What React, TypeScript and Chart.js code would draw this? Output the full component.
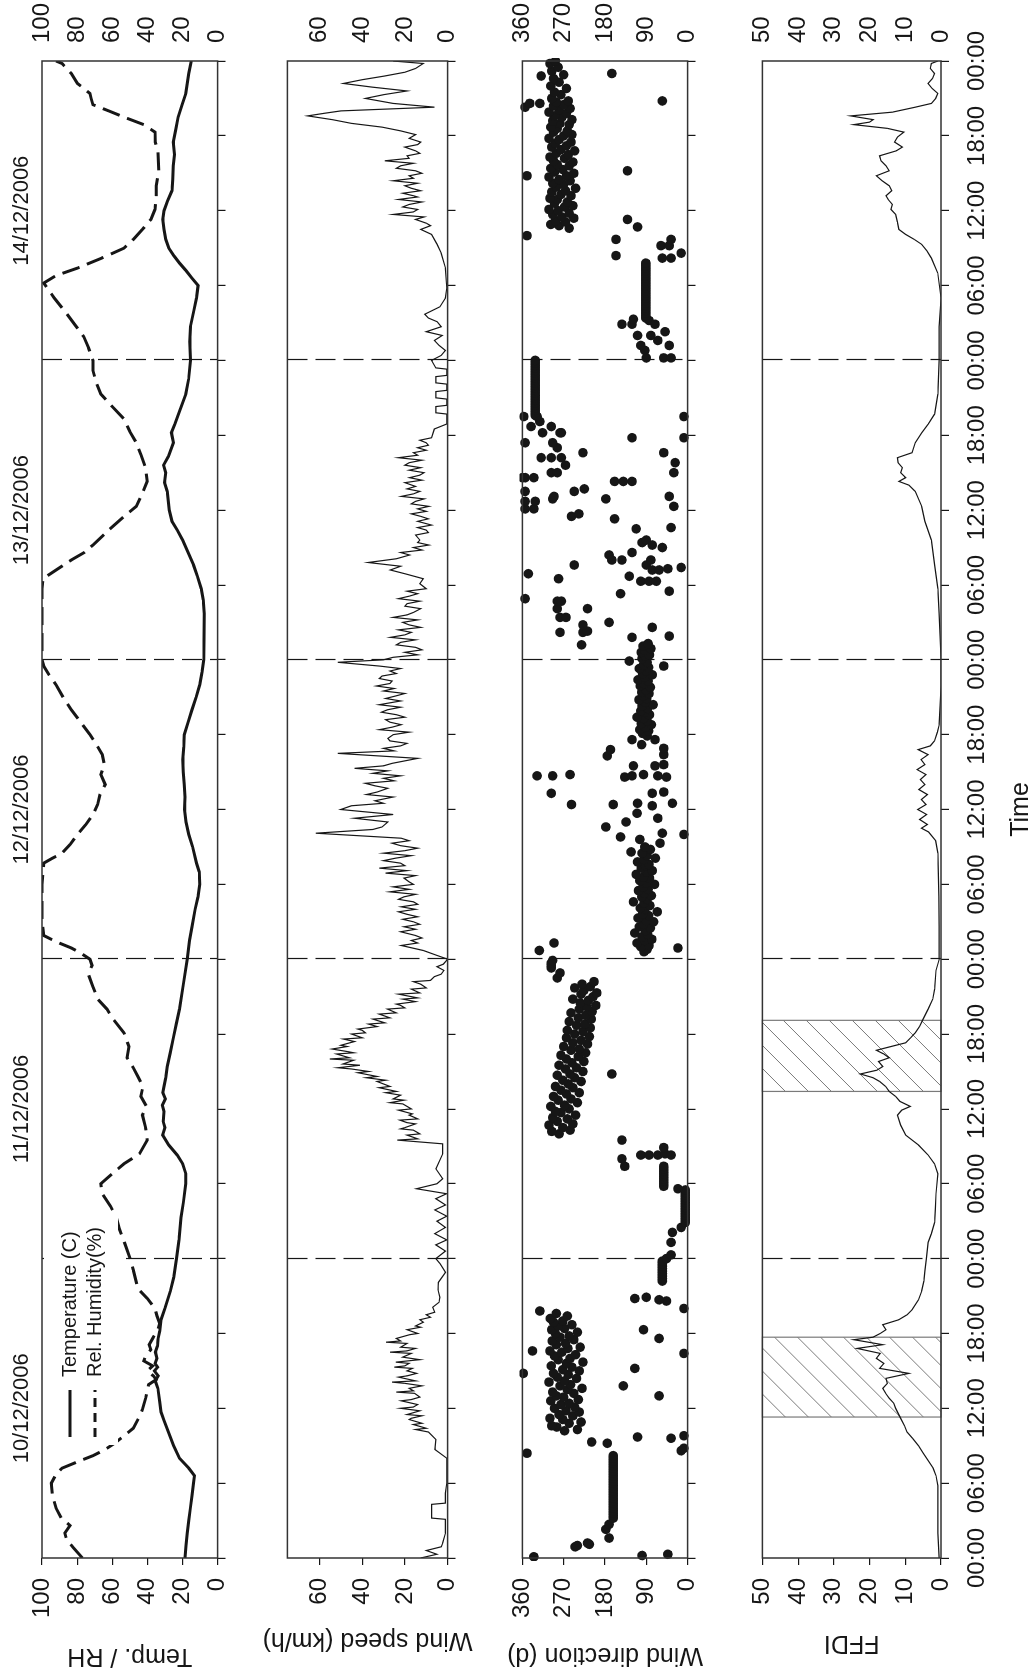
import React, { useEffect, useRef } from 'react';
import { Chart, registerables } from 'chart.js';

Chart.register(...registerables);

const FONT = '"Liberation Sans", Arial, Helvetica, sans-serif';
const INK = '#161616';

// ---------- axes / labels ----------
const dayLabels = ['10/12/2006', '11/12/2006', '12/12/2006', '13/12/2006', '14/12/2006'];
const dateTickHours = [12, 36, 60, 84, 108];
const dayBoundaries = [24, 48, 72, 96];
const timeTicks = [0, 6, 12, 18, 24, 30, 36, 42, 48, 54, 60, 66, 72, 78, 84, 90, 96, 102, 108, 114, 120];
const tempRhTicks = [0, 20, 40, 60, 80, 100];
const windSpeedTicks = [0, 20, 40, 60];
const windDirTicks = [0, 90, 180, 270, 360];
const ffdiTicks = [0, 10, 20, 30, 40, 50];
const hatchRanges: [number, number][] = [[11.3, 17.7], [37.4, 43.1]];

type Pt = [number, number];

// hours since 10/12/2006 00:00, value
const temperature: Pt[] = [
  [0, 18.5], [1, 18], [2, 17.3], [3, 16.4], [4, 15.5], [5, 14.6], [6, 13.7], [6.6, 13.2], [7.2, 16.4], [8, 21.7],
  [9, 25], [10, 27.8], [11, 30.5], [11.7, 32.2], [12.5, 33], [13.6, 34], [14.2, 35.5], [14.6, 33.8], [15, 36],
  [15.3, 34.2], [15.6, 35.6], [16, 34.5], [16.5, 35.4], [17, 34.2], [17.5, 34], [18.2, 33], [19.1, 32.2], [20, 30],
  [21.4, 26.9], [22.5, 25], [24, 23.4], [25.5, 22], [27.3, 20.8], [28.5, 19.5], [30, 18.1], [30.8, 18.1], [31.6, 19.9],
  [32.3, 23], [33.1, 27.8], [33.9, 31.3], [34.5, 30], [35, 31], [35.8, 30.5], [36.3, 31.5], [36.8, 29.8], [37.3, 31.2],
  [37.8, 30.5], [38.5, 29.5], [39.4, 28.7], [40.5, 27], [41.7, 25.2], [42.8, 23.5], [44, 21.7], [46, 19.5], [48, 17.3],
  [49.5, 16], [50.6, 14.6], [52, 12.8], [53, 11.2], [54, 10.2], [55, 10.5], [55.7, 12], [57, 14.2], [58, 16.4], [59, 18],
  [60, 18.8], [61, 18.5], [62, 19], [63, 19.6], [64, 19.9], [65, 19.3], [66, 19], [67, 16.8], [68, 14.6], [69, 12.2],
  [70, 10.2], [71, 8.9], [72, 7.9], [73.5, 7.7], [75.7, 7.6], [76.8, 8.2], [77.7, 9.3], [78.7, 11.5], [79.6, 13.7],
  [80.6, 16.8], [81.6, 19.9], [82.4, 23], [83.1, 26], [84, 27.5], [85.5, 28.7], [86.2, 30.2], [87, 29.6], [87.6, 30.8],
  [88.3, 28], [89.4, 25.2], [90.2, 26.3], [90.9, 24.3], [92, 21.5], [93.3, 18.1], [94.5, 16.5], [96, 15.5], [97.5, 15.8],
  [98.7, 15.5], [100, 13.5], [101, 12], [102, 11.1], [102.6, 14.6], [103.2, 18], [103.8, 21.7], [104.4, 25], [105, 27.8],
  [105.7, 29.5], [106.5, 30.5], [107.3, 31.2], [108, 30.5], [108.8, 28.5], [109.6, 26], [110.5, 25.6], [111.6, 25.2],
  [112.5, 24.5], [113.5, 25.2], [114.5, 23.8], [115.5, 22.5], [116.5, 20.2], [117.4, 18.1], [118.2, 17.3], [119, 16.4],
  [120, 15],
];

const relHumidity: Pt[] = [
  [0, 77], [0.8, 82], [1.5, 86], [2, 87], [2.6, 84], [3.2, 89], [4, 92], [5, 94], [6, 94.7], [6.7, 92], [7.2, 88.6],
  [7.7, 80], [8.2, 71], [8.7, 64], [9.2, 58.6], [10.4, 48], [11.2, 45], [11.9, 42.8], [12.8, 41], [13.9, 39.3],
  [14.3, 35], [14.6, 36.6], [15, 40], [15.4, 37], [15.8, 42], [16.2, 41], [16.7, 38], [17.1, 39], [17.7, 36.6],
  [18.3, 34], [18.8, 33], [19.4, 34.5], [20, 35.7], [20.8, 40], [21.6, 45.4], [23.1, 48], [24, 49.8], [25.4, 53.3],
  [26.4, 56], [27.3, 57.7], [28.2, 61], [29.2, 65.7], [30, 66.5], [30.8, 60], [31.6, 53.3], [32.4, 44.5], [33.5, 40.1],
  [34.5, 41], [35.5, 42.8], [36.2, 40.5], [37, 43.7], [37.8, 42.5], [38.6, 45.4], [39.3, 48], [40.1, 51.6], [41, 50.5],
  [42.1, 53.3], [43.2, 59.5], [44, 63], [44.8, 68.3], [45.8, 71], [46.8, 73.6], [47.5, 71.5], [48, 72.7], [48.5, 78],
  [48.9, 83.3], [49.4, 92], [49.9, 99], [51, 100], [52.6, 100], [54, 100], [55.7, 99], [56.1, 94], [56.5, 88.6],
  [57.2, 84], [58, 79.8], [58.8, 75], [59.6, 71], [60.4, 68.3], [61.2, 67], [62, 64], [62.8, 66.5], [63.6, 64.5],
  [64.4, 65.7], [65.2, 69], [66, 72.7], [67, 78], [68, 83.3], [69, 88], [70, 92], [70.8, 96], [71.5, 99], [72, 100],
  [75, 100], [77.7, 100], [78.5, 99.5], [79.2, 92], [80, 83.3], [80.6, 76], [81.2, 71], [82.4, 62], [83.4, 54],
  [84.3, 46.3], [85.3, 43], [86.3, 40.1], [87.4, 41], [88.4, 43.5], [89.4, 46.3], [90.3, 50], [91.3, 53.3], [92.3, 60],
  [93.3, 66.5], [94.2, 69], [95.2, 71], [96, 71], [97, 73.5], [97.9, 76.2], [98.9, 81.5], [99.9, 86.8], [101, 93],
  [102.2, 99], [102.8, 92], [103.4, 79.8], [104.2, 66], [105, 53.3], [105.7, 48], [106.5, 42.8], [107.3, 38],
  [108.1, 35.7], [109, 35], [110, 34.9], [111.2, 33.5], [112.8, 34], [113.5, 35.5], [114.3, 35.7], [114.9, 42],
  [115.5, 53.3], [116, 62], [116.5, 71], [117, 72], [117.4, 72.7], [118.2, 79.8], [119, 83.3], [119.8, 88.6], [120, 92],
];

const windSpeed: Pt[] = [
  [0, 12.6], [0.3, 5], [0.6, 10], [0.9, 3], [1.2, 2.3], [2, 1], [3.1, 1], [3.2, 7.5], [4.3, 7.5], [4.4, 1], [5.2, 1],
  [6, 0.4], [8, 0.4], [8.7, 6], [9.5, 5.5], [10.1, 9], [10.3, 15], [10.4, 10], [10.7, 16], [10.8, 12], [11.1, 18],
  [11.2, 17], [11.4, 12], [11.5, 19], [11.8, 13], [12.0, 22], [12.1, 16], [12.3, 14], [12.6, 21.7], [12.7, 17],
  [12.9, 13], [13.2, 15.5], [13.3, 24], [13.4, 16], [13.6, 18], [13.8, 12], [14.0, 20], [14.1, 26], [14.2, 15],
  [14.5, 23], [14.6, 19], [14.8, 14.5], [15.0, 19], [15.2, 16.5], [15.3, 25], [15.4, 20], [15.6, 18], [15.7, 24.3],
  [15.9, 13], [16.0, 17], [16.1, 21], [16.4, 17], [16.5, 27], [16.6, 19], [16.8, 15], [16.9, 22], [17.2, 19],
  [17.3, 28.8], [17.4, 22], [17.6, 24], [17.9, 17.8], [18.0, 14], [18.3, 19], [18.5, 12.6], [18.6, 15], [18.9, 11.4],
  [19.1, 13], [19.3, 8], [19.5, 10], [19.7, 6], [20.1, 7], [20.5, 4],
  [20.9, 3.6], [21.5, 4.5], [22.1, 4.3], [22.9, 1], [23.6, 3.6], [24, 5.5], [24.6, 1], [25.1, 5.5], [25.5, 0.4], [26, 6],
  [26.5, 1], [27, 5], [27.4, 0.4], [27.9, 6], [28.3, 1], [28.8, 5.5], [29.2, 0.5], [29.6, 14.6], [30, 5], [30.4, 2.3],
  [31.2, 5.5], [32.4, 2.3], [33.2, 2.3], [33.5, 23.6], [33.6, 14], [33.9, 19], [34.0, 13], [34.3, 16], [34.4, 22],
  [34.5, 20], [34.8, 15], [34.9, 19], [35.1, 22.3], [35.2, 14], [35.5, 18], [35.6, 16.5], [35.9, 23], [36.0, 17],
  [36.4, 21], [36.5, 27], [36.7, 20.4], [36.8, 25.5], [37.1, 22], [37.3, 29], [37.4, 24], [37.7, 32], [37.8, 27],
  [38.0, 30], [38.2, 33], [38.3, 29], [38.5, 38], [38.6, 33], [38.9, 42], [39.0, 37], [39.2, 45], [39.3, 51.4],
  [39.5, 41], [39.6, 49], [39.9, 44], [40.0, 55.2], [40.1, 46], [40.4, 52], [40.5, 44], [40.6, 47], [40.8, 54],
  [41.0, 47], [41.1, 50], [41.4, 43.6], [41.6, 48.8], [41.7, 40], [42.0, 45], [42.1, 38.5], [42.3, 40], [42.4, 42],
  [42.6, 33], [42.8, 37], [42.9, 29.4], [43.2, 35], [43.3, 27], [43.6, 32], [43.7, 24], [44.0, 28.1], [44.1, 20],
  [44.3, 22], [44.4, 24], [44.6, 15], [44.8, 21], [44.9, 14], [45.2, 23], [45.3, 13], [45.6, 17], [45.7, 10],
  [46.0, 12.6], [46.2, 16], [46.3, 8], [46.6, 6.2], [46.8, 3], [47.1, 1.7], [47.4, 5], [47.6, 2], [48, 0],
  [48.3, 4.9], [48.7, 11.4], [49.1, 21.7], [49.3, 14], [49.5, 17], [49.7, 12],
  [49.9, 15], [50.2, 22], [50.4, 15], [50.6, 20.4], [50.8, 13], [51, 16], [51.2, 21], [51.4, 14], [51.6, 19],
  [51.8, 23], [52, 15], [52.2, 21.7], [52.4, 14], [52.6, 16], [52.8, 23], [53, 20.4], [53.2, 15], [53.4, 27],
  [53.6, 18], [53.8, 25.5], [54, 16], [54.2, 18], [54.5, 20.4], [54.7, 15], [54.9, 29], [55.1, 19], [55.3, 32],
  [55.5, 20], [55.7, 22], [55.9, 30], [56.1, 24.3], [56.3, 17], [56.5, 30], [56.7, 20], [56.9, 14], [57.1, 22],
  [57.3, 26], [57.5, 18], [57.7, 21.7], [58.1, 61.7], [58.4, 35], [58.6, 30.7], [59, 28], [59.3, 43.6], [59.6, 25.5],
  [60, 50], [60.3, 45], [60.5, 30], [60.7, 34], [61, 25.5], [61.2, 38], [61.4, 33], [61.7, 28], [61.9, 34],
  [62.1, 38.5], [62.3, 25], [62.5, 30], [62.7, 22], [62.9, 35], [63.1, 28], [63.3, 43.6], [63.5, 30], [63.7, 26],
  [64.1, 14], [64.5, 51.4], [64.7, 25], [64.9, 30], [65.1, 22], [65.3, 19], [65.5, 27], [65.7, 28], [66, 25.5],
  [66.2, 18], [66.4, 32], [66.6, 26], [66.8, 21.7], [67, 27], [67.2, 29], [67.4, 20], [67.6, 24], [67.8, 31], [68, 28],
  [68.2, 22], [68.4, 32], [68.7, 22], [68.9, 29], [69.1, 24.3], [69.3, 20], [69.5, 30], [69.7, 25], [69.9, 33.3],
  [70.1, 27], [70.3, 26], [70.5, 32], [70.7, 30.7], [70.9, 24], [71.1, 27], [71.3, 22], [71.5, 32], [71.8, 51.4],
  [72, 30], [72.2, 25.5], [72.4, 14], [72.6, 20], [72.8, 12], [73, 15], [73.2, 24], [73.4, 22], [73.6, 15], [73.8, 26.8],
  [74, 20], [74.2, 17], [74.4, 23], [74.6, 12.6], [74.8, 18], [75, 21], [75.2, 14], [75.4, 25.5], [75.6, 19], [75.8, 16],
  [76.1, 12.6], [76.3, 20], [76.5, 19], [76.7, 13], [76.9, 23], [77.1, 18], [77.3, 14], [77.5, 19], [77.7, 10],
  [78.1, 13], [78.5, 11.4], [78.9, 20], [79.2, 26.8], [79.5, 22], [79.8, 37.2], [80.1, 24], [80.4, 17.8], [80.6, 22],
  [80.8, 12], [81.0, 16], [81.2, 8.8], [81.4, 14], [81.6, 13], [82, 15], [82.2, 9], [82.4, 10], [82.6, 14], [82.8, 7.5],
  [83.1, 14], [83.3, 9], [83.5, 12.6], [83.7, 17], [83.9, 10], [84.1, 14], [84.3, 8.8], [84.5, 17], [84.7, 15],
  [84.9, 11], [85.1, 21.7], [85.3, 16], [85.5, 13], [85.7, 19], [85.9, 15], [86.2, 20], [86.4, 12], [86.6, 17.8],
  [86.8, 13], [87, 11], [87.2, 18], [87.4, 12.6], [87.6, 20], [87.8, 18], [88, 12], [88.2, 23], [88.4, 14], [88.6, 16],
  [88.8, 10], [89, 14], [89.2, 9], [89.4, 10], [89.6, 13], [89.8, 7.5], [90.5, 6.2], [90.9, 0.4], [91.7, 0.4],
  [91.8, 5.5], [92.3, 5.5], [92.4, 0.4], [92.9, 0.4], [93, 5.5], [93.5, 5.5], [93.6, 0.4], [94.1, 0.4], [94.2, 5.5],
  [94.7, 5.5], [94.8, 0.4], [95.3, 0.4], [95.4, 5.5], [96, 7.5], [96.4, 3], [96.8, 1], [97.2, 4], [97.6, 6.2], [98, 2.5],
  [98.3, 10], [98.7, 3], [99.1, 4.9], [99.4, 9], [99.7, 10.7], [100.3, 3.6], [101, 1], [101.8, 0.4], [103.4, 1],
  [104.6, 3], [105.3, 4.9], [106.1, 7.5], [106.5, 12.6], [106.8, 8], [107, 10], [107.3, 15], [107.5, 11], [107.7, 25.5],
  [107.9, 16], [108.1, 14], [108.3, 21], [108.5, 18], [108.7, 12], [108.9, 23], [109.1, 14], [109.2, 16], [109.4, 21],
  [109.6, 12.6], [109.8, 17], [110, 20], [110.2, 14], [110.4, 25.5], [110.6, 16], [110.8, 18], [111, 12], [111.2, 15],
  [111.4, 24], [111.6, 22], [111.8, 16], [112, 29.4], [112.2, 18], [112.4, 19], [112.6, 13], [112.8, 15], [113.1, 20],
  [113.3, 14], [113.5, 12.6], [113.8, 18], [114.1, 15], [114.4, 22], [114.7, 30.7], [115, 45], [115.3, 54],
  [115.6, 65.5], [115.8, 58], [116, 50], [116.3, 6.2], [116.6, 25.5], [117, 38.5], [117.3, 30], [117.6, 19],
  [117.9, 35], [118.2, 48.8], [118.5, 40], [118.8, 29.4], [119.1, 20], [119.4, 15], [119.8, 11.4], [120, 25.5],
];

const windDirection: Pt[] = [
  // 10/12
  [0.1, 335], [0.2, 99], [0.3, 43], [0.9, 245], [1.0, 240], [1.1, 214], [1.2, 218], [1.6, 171], [2.3, 178], [2.7, 171],
  [3.2, 162], [3.4, 162], [3.6, 162], [3.8, 162], [4.0, 162], [4.2, 162], [4.4, 162], [4.6, 162], [4.8, 162], [5.0, 162],
  [5.2, 162], [5.4, 162], [5.6, 162], [5.8, 162], [6.0, 162], [6.2, 162], [6.4, 162], [6.6, 162], [6.8, 162], [7.0, 162],
  [7.2, 162], [7.4, 162], [7.6, 162], [7.8, 162], [8.0, 162], [8.2, 162],
  [8.4, 350], [8.6, 14], [8.8, 8], [9.2, 175], [9.3, 209], [9.6, 36], [9.7, 109], [9.8, 8],
  [10.2, 268], [10.3, 240], [10.5, 285], [10.6, 296], [10.8, 258], [10.9, 232], [11.1, 272], [11.2, 300], [11.4, 250],
  [11.5, 280], [11.7, 236], [11.8, 265], [12.0, 290], [12.1, 246], [12.3, 276], [12.4, 258], [12.6, 298], [12.7, 238],
  [12.9, 270], [13.0, 286], [13.2, 248], [13.3, 294], [13.5, 262], [13.6, 230], [13.8, 278], [13.9, 255], [14.1, 302],
  [14.2, 268], [14.4, 242], [14.5, 284], [14.7, 260], [14.8, 292], [15.0, 236], [15.1, 272], [15.3, 252], [15.4, 297],
  [15.6, 264], [15.7, 228], [15.9, 282], [16.0, 256], [16.2, 290], [16.3, 244], [16.5, 274], [16.6, 300], [16.8, 261],
  [16.9, 234], [17.1, 286], [17.2, 266], [17.4, 295], [17.5, 248], [17.7, 278], [17.8, 258], [18.0, 288], [18.1, 240],
  [18.3, 296], [18.4, 268], [18.6, 282], [18.7, 252], [18.9, 292], [19.0, 272], [19.2, 299], [19.4, 262], [19.6, 286],
  [13.0, 62], [13.8, 140], [14.8, 358], [15.2, 115], [16.4, 8], [16.6, 338], [17.6, 62], [18.3, 96], [19.8, 322],
  [20.0, 8], [20.6, 46], [20.7, 62], [20.8, 115], [20.9, 90],
  [22.2, 55], [22.4, 55], [22.6, 55], [22.8, 55], [23.0, 55], [23.2, 55], [23.4, 55], [23.6, 55], [23.8, 55],
  // 11/12
  [24.0, 46], [24.3, 36], [25.3, 36], [26.1, 33], [26.5, 14],
  [26.9, 5], [27.1, 5], [27.3, 5], [27.5, 5], [27.7, 5], [27.9, 5], [28.1, 5], [28.3, 5], [28.5, 5], [28.7, 5], [28.9, 5],
  [29.1, 5], [29.3, 5], [29.5, 5], [29.6, 21],
  [29.8, 52], [30.0, 52], [30.2, 52], [30.4, 52], [30.6, 52], [30.8, 52], [31.0, 52], [31.2, 52], [31.4, 52],
  [31.4, 137], [32.0, 143], [32.3, 102], [32.3, 84], [32.3, 65], [32.4, 49], [32.3, 36], [33.5, 143], [32.9, 52],
  [34.0, 280], [34.2, 296], [34.3, 256], [34.5, 272], [34.7, 302], [34.8, 250], [35.0, 284], [35.2, 262], [35.3, 294],
  [35.5, 244], [35.7, 276], [35.8, 288], [36.0, 258], [36.2, 298], [36.3, 268], [36.5, 240], [36.7, 282], [36.8, 254],
  [37.0, 292], [37.2, 264], [37.3, 236], [37.5, 276], [37.7, 250], [37.8, 288], [38.0, 260], [38.2, 232], [38.3, 272],
  [38.5, 246], [38.7, 284], [38.8, 256], [39.0, 228], [39.2, 266], [39.3, 242], [39.5, 280], [39.7, 252], [39.8, 226],
  [40.0, 264], [40.2, 238], [40.3, 276], [40.5, 222], [40.7, 254], [40.8, 236], [41.0, 270], [41.2, 218], [41.3, 250],
  [41.5, 232], [41.7, 264], [41.8, 214], [42.0, 246], [42.2, 228], [42.3, 262], [42.5, 212], [42.7, 242], [42.8, 224],
  [43.0, 258], [43.2, 210], [43.3, 238], [43.5, 222], [43.7, 254], [43.8, 208], [44.0, 236], [44.2, 220], [44.3, 200],
  [44.5, 234], [44.7, 216], [44.8, 250], [45.0, 206], [45.2, 232], [45.3, 198], [45.5, 226], [45.7, 246], [45.8, 212],
  [46.0, 230], [46.2, 204], [38.8, 165],
  [46.5, 284], [46.9, 278], [47.3, 297], [47.5, 297], [47.7, 297], [47.9, 294], [48.7, 323], [49.3, 291],
  // 12/12
  [48.6, 95], [48.8, 88], [48.9, 21], [49.0, 102], [49.1, 84], [49.3, 110], [49.5, 93], [49.6, 78], [49.8, 99],
  [50.0, 87], [50.1, 115], [50.3, 92], [50.5, 81], [50.6, 105], [50.8, 96], [51.0, 74], [51.1, 90], [51.3, 108],
  [51.5, 85], [51.6, 98], [51.8, 66], [52.0, 93], [52.1, 103], [52.3, 82], [52.5, 95], [52.6, 118], [52.8, 88],
  [53.0, 100], [53.1, 79], [53.3, 94], [53.5, 107], [53.6, 86], [53.8, 97], [54.0, 72], [54.1, 91], [54.3, 104],
  [54.5, 83], [54.6, 96], [54.8, 112], [55.0, 89], [55.1, 77], [55.3, 101], [55.5, 92], [55.6, 84], [55.8, 109],
  [56.0, 95], [56.1, 70], [56.3, 88], [56.5, 99], [56.6, 123], [56.8, 81], [57.0, 93], [57.3, 60], [57.6, 104],
  [57.8, 146], [58.0, 8], [58.1, 55], [58.6, 178], [59.0, 134], [59.3, 65], [59.7, 110], [60.4, 253], [60.4, 162],
  [60.5, 109], [60.3, 77], [60.5, 33], [61.3, 297], [61.3, 77], [61.4, 52], [62.7, 328], [62.7, 294], [62.8, 256],
  [62.6, 137], [62.7, 121], [62.8, 96], [62.7, 65], [62.6, 46], [63.5, 118], [63.5, 71], [63.6, 52], [64.4, 52],
  [64.3, 175], [64.8, 168], [64.9, 52], [65.6, 121], [65.6, 71], [65.2, 100], [65.9, 88],
  [66.1, 98], [66.3, 85], [66.4, 104], [66.6, 92], [66.8, 79], [66.9, 101], [67.1, 88], [67.3, 96], [67.4, 110],
  [67.6, 83], [67.8, 94], [67.9, 102], [68.1, 87], [68.3, 99], [68.4, 75], [68.6, 92], [68.8, 106], [68.9, 89],
  [69.1, 97], [69.3, 84], [69.4, 100], [69.6, 91], [69.8, 81], [69.9, 103], [70.1, 95], [70.3, 86], [70.4, 108],
  [70.6, 93], [70.8, 77], [70.9, 98], [71.1, 90], [71.3, 105], [71.4, 85], [71.6, 96], [71.8, 88], [71.9, 127],
  [72.1, 99], [72.3, 92], [72.4, 83], [72.6, 101], [72.8, 94], [72.9, 80], [73.1, 97], [73.3, 86], [71.5, 52],
  // 13/12
  [73.8, 121], [73.9, 40], [74.6, 77], [75.0, 171],
  [73.2, 231], [74.2, 278], [74.2, 228], [74.3, 218], [74.8, 228], [75.4, 278], [75.4, 265], [76.1, 284], [76.1, 218],
  [76.7, 284], [76.7, 275], [76.9, 354], [77.3, 146], [78.5, 281], [78.9, 347], [79.6, 247], [78.7, 127], [79.6, 90],
  [79.2, 77], [79.3, 43], [78.3, 102], [78.3, 84], [78.3, 68], [77.5, 40],
  [80.4, 171], [80.0, 165], [80.0, 143], [80.6, 121], [81.4, 99], [80.0, 80], [79.2, 62], [79.4, 14], [81.6, 90],
  [81.2, 77], [81.0, 55], [82.6, 36], [82.5, 112], [83.5, 253], [83.7, 237], [83.3, 159], [84.9, 178], [84.9, 294],
  [85.5, 247], [85.7, 225], [85.1, 40], [86.3, 159], [86.3, 140], [86.3, 121], [84.3, 30],
  [84.1, 335], [84.1, 354], [84.7, 354], [84.7, 332], [85.1, 291], [85.5, 354], [86.6, 360], [86.6, 354], [86.6, 335],
  [87.0, 297], [87.0, 284], [87.6, 266], [88.2, 319], [88.2, 297], [88.2, 275], [88.6, 228], [89.0, 284], [89.4, 354],
  [89.4, 294], [89.8, 121], [90.2, 316], [90.2, 278], [90.2, 275], [90.7, 341], [90.7, 297], [91.1, 322], [91.5, 357],
  [91.5, 328], [88.6, 52], [87.8, 27], [87.0, 30], [91.5, 8], [89.8, 8],
  [91.6, 332], [91.8, 332], [92.0, 332], [92.2, 332], [92.4, 332], [92.6, 332], [92.8, 332], [93.0, 332], [93.2, 332],
  [93.4, 332], [93.6, 332], [93.8, 332], [94.0, 332], [94.2, 332], [94.4, 332], [94.6, 332], [94.8, 332], [95.0, 332],
  [95.2, 332], [95.4, 332], [95.6, 332], [95.8, 332], [96.0, 332],
  // 14/12
  [96.2, 90], [96.2, 52], [96.2, 36], [96.8, 93], [97.2, 102], [97.2, 40], [97.6, 65], [98.0, 109], [98.0, 80],
  [98.3, 49], [98.9, 143], [98.9, 121], [99.2, 84], [98.9, 71], [99.3, 118],
  [99.4, 91], [99.6, 91], [99.8, 91], [100.0, 91], [100.2, 91], [100.4, 91], [100.6, 91], [100.8, 91], [101.0, 91],
  [101.2, 91], [101.4, 91], [101.6, 91], [101.8, 91], [102.0, 91], [102.2, 91], [102.4, 91], [102.6, 91], [102.8, 91],
  [103.0, 91], [103.2, 91], [103.4, 91], [103.6, 91], [103.8, 91],
  [104.2, 55], [104.2, 36], [104.6, 14], [105.2, 58], [105.2, 40], [105.7, 36], [104.4, 156], [105.7, 156],
  [106.0, 350], [106.7, 109], [107.3, 131], [111.2, 131], [110.8, 350], [116.3, 354], [116.6, 344], [116.6, 322],
  [118.8, 319], [119.0, 165], [116.8, 55],
  [106.6, 258], [106.8, 280], [106.9, 298], [107.1, 266], [107.2, 288], [107.4, 248], [107.5, 274], [107.7, 294],
  [107.8, 258], [108.0, 282], [108.1, 302], [108.3, 268], [108.4, 250], [108.6, 290], [108.7, 262], [108.9, 284],
  [109.0, 300], [109.2, 254], [109.3, 276], [109.5, 296], [109.6, 266], [109.8, 244], [109.9, 286], [110.1, 270],
  [110.2, 294], [110.4, 256], [110.5, 280], [110.7, 302], [110.8, 264], [111.0, 248], [111.1, 290], [111.3, 272],
  [111.4, 298], [111.6, 258], [111.7, 284], [111.9, 250], [112.0, 292], [112.2, 268], [112.3, 300], [112.5, 260],
  [112.6, 286], [112.8, 246], [112.9, 276], [113.1, 296], [113.2, 264], [113.4, 288], [113.5, 254], [113.7, 280],
  [113.8, 302], [114.0, 270], [114.1, 252], [114.3, 292], [114.4, 262], [114.6, 284], [114.7, 298], [114.9, 258],
  [115.0, 278], [115.2, 294], [115.3, 252], [115.5, 274], [115.6, 290], [115.8, 264], [115.9, 302], [116.1, 280],
  [116.2, 256], [116.4, 292], [116.5, 270], [116.7, 286], [116.8, 260], [117.0, 296], [117.3, 276], [117.5, 290],
  [117.8, 264], [118.0, 298], [118.3, 280], [118.6, 292], [118.9, 270], [119.2, 296], [119.5, 282], [119.8, 300],
  [120.0, 288],
];

const ffdi: Pt[] = [
  [0, 0.5], [2, 0.9], [4, 0.9], [5.8, 0.9], [6.6, 1.4], [7.2, 2.2], [7.8, 3.6], [8.4, 5], [9, 6.3], [9.6, 8],
  [10.1, 9.5], [10.6, 10.2], [11.2, 11.3], [12, 12.7], [12.4, 13.2], [12.8, 14.5], [13.2, 15.5], [13.6, 16.3],
  [14, 15], [14.4, 15.4], [14.8, 9], [15.2, 17.2], [15.6, 16], [16, 18.1], [16.4, 17], [16.8, 23.5], [17.1, 16.3],
  [17.5, 24.4], [17.7, 19], [18, 17], [18.3, 15.4], [18.7, 16.3], [19.1, 11.8], [19.5, 9.5], [19.9, 8.1], [20.7, 6.3],
  [21.4, 5.4], [22.2, 4.8], [23, 4.5], [24, 4.1], [25.3, 3.6], [26, 2.7], [26.9, 1.8], [28, 1.6], [29.2, 1.4],
  [30.8, 0.9], [31.6, 1.8], [32.3, 3.6], [33.1, 6.3], [33.9, 9.9], [34.7, 11.3], [35.5, 12.2], [35.9, 11], [36.2, 8.6],
  [36.6, 11.5], [37, 12.7], [37.4, 14.5], [37.8, 15.5], [38.2, 17.2], [38.5, 19], [38.8, 22.6], [39.1, 18],
  [39.4, 16.3], [39.8, 17.5], [40.1, 14.5], [40.4, 16], [40.7, 18.1], [41, 14], [41.3, 9.9], [41.7, 8.5], [42.1, 7.2],
  [42.6, 6], [43.2, 5], [44, 3.6], [44.8, 2.3], [45.6, 1.8], [47.1, 1.4], [48, 0.5], [50.6, 0.5], [53, 0.6],
  [56.5, 0.9], [57.5, 1.5], [58.2, 3.5], [58.5, 5.5], [58.8, 3.8], [59.2, 6], [59.6, 4], [60, 6.5], [60.4, 4.2],
  [60.8, 5.5], [61.2, 3.8], [61.6, 6.2], [62, 4.5], [62.4, 5.8], [62.8, 4.2], [63.2, 6.7], [63.6, 4.5], [64, 5.6],
  [64.4, 3.6], [64.8, 6.4], [65.1, 3], [65.5, 1.8], [66.2, 1], [66.8, 0.5], [69.9, 0], [72, 0], [75.7, 0.5],
  [77.7, 0.9], [79.6, 1.8], [81.6, 2.7], [83.1, 4.5], [84.3, 5.4], [85.5, 7.2], [86, 9], [86.3, 11.8], [86.6, 9.9],
  [87, 11.3], [87.4, 10.8], [87.8, 12], [88.2, 12.2], [88.6, 8.1], [89.4, 7.2], [90.2, 5.4], [90.9, 3.6], [91.7, 1.8],
  [93.3, 0.9], [96, 0.5], [98.7, 0.5], [101, 0], [103, 0.9], [104.2, 2.7], [104.8, 4], [105.3, 5.4], [105.7, 7.5],
  [106.1, 9.9], [106.5, 11.8], [107.1, 12.2], [107.7, 12.7], [108.1, 14], [108.5, 13.6], [108.9, 14.8], [109.2, 15.4],
  [109.6, 13.8], [110, 14.5], [110.4, 16.5], [110.8, 18.1], [111.2, 14.5], [111.6, 15.4], [112, 16.8], [112.4, 17.2],
  [112.8, 12.5], [113.1, 10.8], [113.5, 13], [113.9, 12.2], [114.3, 10.4], [114.6, 15], [114.9, 24.4], [115.1, 20],
  [115.3, 19], [115.6, 25.3], [115.9, 13.6], [116.3, 7.2], [116.6, 2.7], [117, 1.5], [117.4, 0.9], [117.8, 2.5],
  [118.2, 3.6], [118.6, 2.4], [119, 1.8], [119.4, 3], [119.8, 2.7], [120, 0.9],
];

// ---------- layout (un-rotated figure frame) ----------
const FIG_W = 1671;
const FIG_H = 1036;
const PLOT_LEFT = 113;
const PLOT_RIGHT = 1610;

const toXY = (arr: Pt[]) => arr.map(([x, y]) => ({ x, y }));
const hourLabel = (v: number) => {
  const h = ((Math.round(v) % 24) + 24) % 24;
  return (h < 10 ? '0' : '') + h + ':00';
};

const framePlugin = {
  id: 'frameAndDays',
  beforeDatasetsDraw(chart: any) {
    const { ctx, chartArea: a, scales } = chart;
    const x = scales.x;
    ctx.save();
    ctx.strokeStyle = INK;
    ctx.lineWidth = 1.2;
    ctx.setLineDash([20, 8]);
    dayBoundaries.forEach((h) => {
      const px = Math.round(x.getPixelForValue(h)) + 0.5;
      ctx.beginPath();
      ctx.moveTo(px, a.top);
      ctx.lineTo(px, a.bottom);
      ctx.stroke();
    });
    ctx.restore();
  },
  afterDatasetsDraw(chart: any) {
    const { ctx, chartArea: a } = chart;
    ctx.save();
    ctx.strokeStyle = '#333';
    ctx.lineWidth = 1.5;
    ctx.setLineDash([]);
    ctx.strokeRect(a.left, a.top, a.right - a.left, a.bottom - a.top);
    ctx.restore();
  },
};

const hatchPlugin = {
  id: 'hatch',
  beforeDatasetsDraw(chart: any) {
    const { ctx, chartArea: a, scales } = chart;
    const x = scales.x;
    hatchRanges.forEach(([h0, h1]) => {
      const x0 = x.getPixelForValue(h0);
      const x1 = x.getPixelForValue(h1);
      const H = a.bottom - a.top;
      ctx.save();
      ctx.beginPath();
      ctx.rect(x0, a.top, x1 - x0, H);
      ctx.clip();
      ctx.strokeStyle = '#7a7a7a';
      ctx.lineWidth = 1;
      for (let s = x0 - H; s < x1 + H; s += 23) {
        ctx.beginPath();
        ctx.moveTo(s, a.bottom);
        ctx.lineTo(s + H, a.top);
        ctx.stroke();
      }
      ctx.restore();
      ctx.save();
      ctx.strokeStyle = '#7a7a7a';
      ctx.lineWidth = 1.2;
      ctx.strokeRect(x0, a.top, x1 - x0, H);
      ctx.restore();
    });
  },
};

const legendPlugin = {
  id: 'cornerLegend',
  afterDatasetsDraw(chart: any) {
    const { ctx } = chart;
    const ys = [70, 95];
    ctx.save();
    ctx.fillStyle = '#fff';
    ctx.fillRect(226, 44, 232, 74);
    chart.data.datasets.forEach((ds: any, i: number) => {
      const y = ys[i];
      ctx.strokeStyle = INK;
      ctx.lineWidth = 3;
      ctx.setLineDash(ds.borderDash ? [9, 6] : []);
      ctx.beginPath();
      ctx.moveTo(234, y);
      ctx.lineTo(281, y);
      ctx.stroke();
      ctx.setLineDash([]);
      ctx.fillStyle = INK;
      ctx.font = `20px ${FONT}`;
      ctx.textBaseline = 'middle';
      ctx.textAlign = 'left';
      ctx.fillText(ds.label, 294, y);
    });
    ctx.restore();
  },
};

type Spec = {
  key: string;
  top: number;
  height: number;
  padTop: number;
  xHeight: number;
  yMin: number;
  yMax: number;
  yTicks: number[];
  yTitle: string;
  titlePad: number;
  showTime: boolean;
  showDates: boolean;
};

const specs: Spec[] = [
  { key: 'trh', top: 0, height: 250, padTop: 0, xHeight: 19, yMin: 0, yMax: 100, yTicks: tempRhTicks, yTitle: 'Temp. / RH', titlePad: 0, showTime: false, showDates: true },
  { key: 'ws', top: 255, height: 225, padTop: 15, xHeight: 18, yMin: 0, yMax: 75, yTicks: windSpeedTicks, yTitle: 'Wind speed (km/h)', titlePad: 16, showTime: false, showDates: false },
  { key: 'wd', top: 490, height: 230, padTop: 20, xHeight: 19, yMin: 0, yMax: 360, yTicks: windDirTicks, yTitle: 'Wind direction (d)', titlePad: 1, showTime: false, showDates: false },
  { key: 'ffdi', top: 730, height: 306, padTop: 22, xHeight: 95, yMin: 0, yMax: 50, yTicks: ffdiTicks, yTitle: 'FFDI', titlePad: 13, showTime: true, showDates: false },
];

function buildScales(s: Spec) {
  const tickFont = { family: FONT, size: 24 };
  const scales: any = {
    x: {
      type: 'linear',
      position: 'bottom',
      min: 0,
      max: 120,
      afterBuildTicks: (sc: any) => { sc.ticks = timeTicks.map((v) => ({ value: v })); },
      afterFit: (sc: any) => { sc.height = s.xHeight; },
      grid: { display: true, drawOnChartArea: false, drawTicks: true, tickLength: 8, color: INK, lineWidth: 1.2 },
      border: { display: false },
      ticks: {
        display: s.showTime,
        autoSkip: false,
        maxRotation: 0,
        minRotation: 0,
        padding: 14,
        font: tickFont,
        color: INK,
        callback: (v: any) => hourLabel(Number(v)),
      },
      title: s.showTime
        ? { display: true, text: 'Time', color: INK, font: { family: FONT, size: 25 }, padding: { top: 0, bottom: 0 } }
        : { display: false },
    },
    y: {
      type: 'linear',
      position: 'left',
      min: s.yMin,
      max: s.yMax,
      afterBuildTicks: (sc: any) => { sc.ticks = s.yTicks.map((v) => ({ value: v })); },
      afterFit: (sc: any) => { sc.width = PLOT_LEFT; },
      grid: { display: true, drawOnChartArea: false, drawTicks: true, tickLength: 7, color: INK, lineWidth: 1.2 },
      border: { display: false },
      ticks: { padding: 13, font: tickFont, color: INK },
      title: { display: true, text: s.yTitle, color: INK, font: { family: FONT, size: 25 }, padding: { top: s.titlePad, bottom: 0 } },
    },
    yRight: {
      type: 'linear',
      position: 'right',
      min: s.yMin,
      max: s.yMax,
      afterBuildTicks: (sc: any) => { sc.ticks = s.yTicks.map((v) => ({ value: v })); },
      afterFit: (sc: any) => { sc.width = FIG_W - PLOT_RIGHT; },
      grid: { display: false, drawTicks: false },
      border: { display: false },
      ticks: { padding: 18, font: tickFont, color: INK },
    },
  };
  if (s.showDates) {
    scales.xTop = {
      type: 'linear',
      position: 'top',
      min: 0,
      max: 120,
      afterBuildTicks: (sc: any) => { sc.ticks = dateTickHours.map((v) => ({ value: v })); },
      afterFit: (sc: any) => { sc.height = 42; },
      grid: { display: false, drawTicks: false },
      border: { display: false },
      ticks: {
        autoSkip: false,
        maxRotation: 0,
        padding: 7,
        font: { family: FONT, size: 22 },
        color: INK,
        callback: (_v: any, i: number) => dayLabels[i],
      },
    };
  }
  return scales;
}

function buildDatasets(key: string): any[] {
  if (key === 'trh') {
    return [
      { label: 'Temperature (C)', data: toXY(temperature), borderColor: INK, borderWidth: 3, pointRadius: 0, tension: 0 },
      { label: 'Rel. Humidity(%)', data: toXY(relHumidity), borderColor: INK, borderWidth: 3, borderDash: [18, 8], pointRadius: 0, tension: 0 },
    ];
  }
  if (key === 'ws') {
    return [{ label: 'Wind speed', data: toXY(windSpeed), borderColor: INK, borderWidth: 1.2, pointRadius: 0, tension: 0 }];
  }
  if (key === 'wd') {
    return [{ label: 'Wind direction', data: toXY(windDirection), showLine: false, pointRadius: 4.8, pointBackgroundColor: INK, pointBorderWidth: 0, borderColor: INK, clip: 3 }];
  }
  return [{ label: 'FFDI', data: toXY(ffdi), borderColor: INK, borderWidth: 1.2, pointRadius: 0, tension: 0 }];
}

function Panel({ spec }: { spec: Spec }) {
  const ref = useRef<HTMLCanvasElement | null>(null);
  useEffect(() => {
    if (!ref.current) return;
    const plugins: any[] = [framePlugin];
    if (spec.key === 'ffdi') plugins.unshift(hatchPlugin);
    if (spec.key === 'trh') plugins.push(legendPlugin);
    const chart = new Chart(ref.current, {
      type: 'line',
      data: { datasets: buildDatasets(spec.key) },
      options: {
        responsive: false,
        animation: false,
        events: [],
        devicePixelRatio: 1,
        layout: { padding: { top: spec.padTop, left: 0, right: 0, bottom: 0 } },
        plugins: { legend: { display: false }, tooltip: { enabled: false } },
        scales: buildScales(spec),
      } as any,
      plugins,
    });
    return () => chart.destroy();
  }, [spec]);
  return (
    <canvas
      ref={ref}
      width={FIG_W}
      height={spec.height}
      style={{ position: 'absolute', left: 0, top: spec.top, width: FIG_W, height: spec.height }}
    />
  );
}

export default function App() {
  return (
    <div style={{ position: 'absolute', left: 0, top: 0, width: FIG_H, height: FIG_W, overflow: 'hidden', background: '#fff' }}>
      <div
        style={{
          position: 'absolute',
          left: 0,
          top: 0,
          width: FIG_W,
          height: FIG_H,
          transformOrigin: '0 0',
          transform: `translate(0px, ${FIG_W}px) rotate(-90deg)`,
        }}
      >
        {specs.map((s) => (
          <Panel key={s.key} spec={s} />
        ))}
      </div>
    </div>
  );
}
